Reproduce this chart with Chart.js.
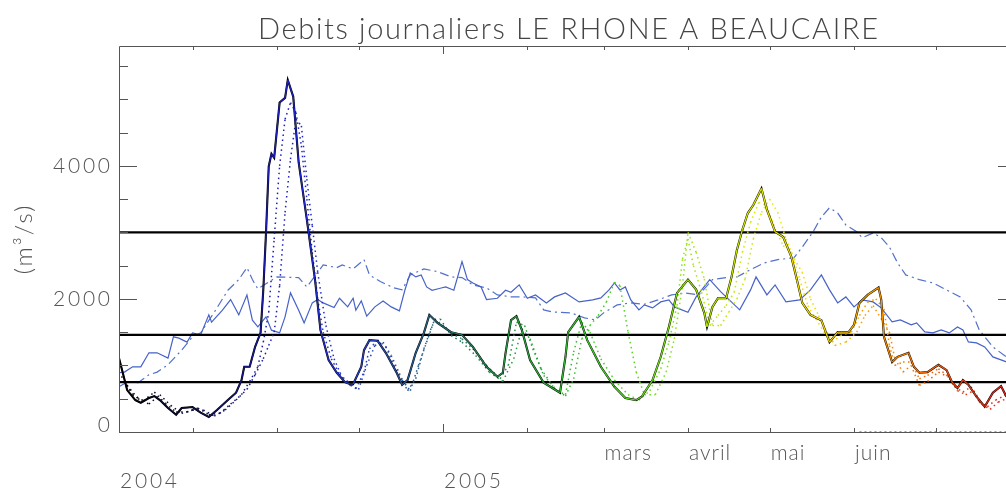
<!DOCTYPE html>
<html>
<head>
<meta charset="utf-8">
<script src="https://cdn.jsdelivr.net/npm/chart.js@4.4.1/dist/chart.umd.min.js"></script>
<style>
  html, body { margin: 0; padding: 0; background: #fff; overflow: hidden; }
  #wrap { width: 1040px; height: 491px; }
</style>
</head>
<body>
<div id="wrap"><canvas id="debits" width="1040" height="491"></canvas></div>
<script>
// x = days counted from 1 Jan 2005, y = discharge in m3/s
const title = 'Debits journaliers LE RHONE A BEAUCAIRE';
const yTitle = '(m³/s)';

// observed daily discharge (black / coloured by date)
const obsDays = [-119,-116,-113,-111,-108,-106,-104,-101,-98,-96,-92,-89,-86,-83,-79,-76,-74,-73,-71,-69,
  -67,-66,-65,-64,-63,-62,-60,-58,-57,-55,-53,-50,-47,-45,-42,-39,-36,-34,-33,-30,
  -29,-27,-24,-21,-17,-15,-13,-10,-7,-5,-2,3,7,11,16,20,22,23,25,27,
  29,32,37,43,45,46,50,53,58,63,67,71,73,77,80,83,86,90,93,96,
  97,99,101,104,106,108,110,112,114,117,119,122,125,128,130,132,135,139,142,145,
  149,151,153,156,160,161,162,165,167,171,173,175,178,182,185,187,189,191,193,196,
  199,202,205,207];
const obsValues = [1110,630,480,440,510,540,480,360,260,360,375,290,225,330,480,590,780,980,980,1280,
  1490,2130,2990,3990,4180,4120,4950,5020,5290,5040,4050,3190,2290,1530,1080,890,750,720,720,980,
  1230,1380,1370,1190,890,710,780,1190,1490,1760,1640,1500,1460,1280,980,830,890,1190,1680,1740,
  1530,1080,740,590,1130,1500,1730,1380,980,680,510,480,530,780,1130,1580,2090,2290,2140,1790,
  1580,1880,2010,2010,2330,2740,3040,3290,3410,3660,3340,3010,2930,2630,2290,1940,1760,1680,1350,1500,
  1500,1610,1940,2060,2170,1990,1430,1050,1130,1190,980,890,900,1010,930,750,660,780,710,530,
  380,590,690,530];

// forecasts (dotted)
const prevADays = [-119,-114,-110,-106,-102,-98,-94,-90,-86,-82,-78,-74,-71,-68,-66,-64,-62,-60,-58,-56,
  -54,-52,-50,-48,-46,-44,-41,-38,-35,-32,-29,-27,-24,-21,-18,-15,-12,-9,-6,-3,
  0,3,7,11,16,21,24,27,30,33,37,42,45,48,51,54,58,63,68,72,
  76,80,83,86,88,90,92,95,98,101,104,107,110,113,116,119,122,125,128,131,
  134,137,140,143,146,150,153,156,159,162,164,166,169,172,175,178,182,185,188,191,
  194,197,200,203,207];
const prevAValues = [900,560,470,600,430,300,300,360,260,280,420,560,760,980,1350,1800,2900,4000,4700,4950,
  4800,4300,3500,2700,2000,1500,1100,870,760,650,900,1250,1380,1280,1000,780,620,1000,1350,1700,
  1600,1480,1400,1250,1000,800,1000,1650,1600,1250,850,620,560,1200,1650,1500,1100,780,560,480,
  620,950,1350,1900,2600,2900,2500,2100,1600,1750,1900,2100,2700,3150,3450,3400,3050,2800,2700,2300,
  1900,1700,1500,1350,1450,1500,1750,1950,2000,1850,1300,1000,1050,1050,800,850,950,860,680,600,
  680,450,380,480,560];
const prevBDays = [-116,-112,-108,-104,-100,-96,-92,-88,-84,-80,-76,-72,-69,-66,-64,-62,-60,-58,-56,-54,
  -52,-50,-48,-46,-43,-40,-37,-34,-31,-28,-25,-22,-19,-16,-13,-10,-7,-4,-1,3,
  7,12,17,22,26,29,32,36,41,45,48,51,54,57,60,63,65,68,71,74,
  78,82,85,88,90,93,96,99,102,105,108,111,114,117,120,123,126,129,132,135,
  138,141,144,148,152,155,158,161,164,166,169,172,175,178,182,186,189,192,195,198,
  201,204,207];
const prevBValues = [700,500,420,560,400,280,330,330,240,330,480,640,860,1100,1300,1500,2200,3300,4100,4700,
  4600,3800,3100,2400,1600,1100,820,700,640,1000,1300,1350,1150,880,620,800,1250,1600,1700,1450,
  1350,1150,900,760,1100,1550,1400,950,650,540,800,1400,1600,1750,1950,2250,2200,1500,900,560,
  560,900,1400,2200,3000,2700,2300,1600,1600,1800,2000,2300,2900,3300,3500,3300,2900,2600,2400,2000,
  1750,1500,1300,1350,1500,1750,1900,1700,1500,1100,900,1000,700,760,900,820,620,560,620,420,
  340,450,500];
const prevZeroDays = [153, 210];
const prevZeroValues = [0, 0];

// blue solid and blue dash-dot reference curves
const moyDays = [-119,-117,-114,-111,-108,-105,-101,-99,-97,-94,-92,-89,-86,-85,-81,-78,-75,-72,-70,-68,
  -65,-63,-60,-58,-56,-53,-51,-48,-46,-44,-40,-38,-35,-33,-32,-30,-28,-25,-22,-19,
  -16,-14,-12,-10,-8,-6,-4,-1,1,4,7,9,11,14,16,20,23,25,28,31,
  34,38,41,45,50,55,58,61,63,65,67,69,72,74,77,80,83,85,90,93,
  98,102,109,113,115,119,122,126,131,135,139,142,145,148,151,154,158,161,165,168,
  172,174,177,180,183,186,189,191,193,196,199,202,207];
const moyValues = [890,900,980,980,1190,1190,1110,1430,1410,1350,1490,1460,1760,1650,1830,1990,1760,2060,1680,1580,
  1730,1530,1490,1730,2090,1830,1640,1940,1990,1940,1870,2010,1880,2010,1830,1970,1740,1880,1970,1880,
  1820,2130,2390,2330,2360,2180,2130,2160,2180,2130,2560,2290,2240,2180,1990,2010,2130,2100,2210,2010,
  2060,1940,2030,2090,1955,1985,2015,2135,2240,2135,2180,1985,1835,1910,1865,1955,1985,1880,1800,2030,
  2290,2110,1835,2135,2330,2060,2210,1955,1985,2135,2360,2135,1940,2030,1880,1985,1955,1865,1654,1684,
  1609,1640,1504,1489,1534,1489,1579,1534,1353,1338,1278,1128,1053];
const climDays = [-119,-116,-112,-108,-105,-101,-96,-92,-89,-84,-79,-75,-72,-70,-68,-61,-53,-50,-44,-39,
  -37,-33,-29,-27,-23,-18,-15,-12,-7,-2,3,7,11,16,20,25,29,34,37,40,
  47,52,56,59,64,69,74,79,84,89,94,99,104,108,113,118,123,129,132,136,
  139,142,145,148,152,154,158,161,164,167,170,175,180,185,190,194,197,202,207];
const climValues = [680,750,740,860,900,1010,1230,1430,1490,1800,2130,2290,2470,2290,2150,2330,2320,2180,2510,2470,
  2510,2450,2590,2360,2260,2165,2135,2360,2450,2410,2330,2320,2210,2165,2060,2030,2030,2015,1835,1805,
  1790,1715,1685,1790,1910,1940,1920,1985,2060,2090,2060,2290,2320,2330,2440,2540,2590,2620,2780,3010,
  3230,3370,3290,3110,3010,2920,2990,2920,2780,2540,2360,2290,2240,2135,2030,1835,1534,1278,1128];

// horizontal threshold lines
const seuils = [3000, 1460, 750];

// axes
const xMin = -119, xMax = 210.5;
const yMin = 0, yMax = 5800;
const yMajor = [0, 2000, 4000];
const yMinor = [500, 1000, 1500, 2500, 3000, 3500, 4500, 5000, 5500];
const monthTicks = [-92, -61, -31, 31, 59, 90, 120, 151, 181];
const yearTicks = [0];
const monthLabels = [[59, 'mars'], [90, 'avril'], [120, 'mai'], [151, 'juin']];
const yearLabels = [[-119, '2004'], [0, '2005']];

// rainbow + black colour ramp along the time axis
const rampStops = [
  [-119, [0, 0, 0]], [-90, [15, 15, 70]], [-60, [30, 30, 185]], [-40, [35, 50, 205]],
  [-20, [40, 75, 170]], [-5, [40, 100, 130]], [10, [40, 125, 90]], [30, [40, 160, 60]],
  [55, [60, 200, 40]], [80, [115, 222, 30]], [100, [185, 232, 0]], [120, [232, 232, 0]],
  [140, [242, 215, 0]], [155, [245, 160, 0]], [175, [245, 110, 0]], [195, [235, 50, 20]],
  [211, [220, 20, 20]]
];
function colorAt(d) {
  if (d <= rampStops[0][0]) return 'rgb(' + rampStops[0][1].join(',') + ')';
  for (let i = 1; i < rampStops.length; i++) {
    const [d1, c1] = rampStops[i];
    const [d0, c0] = rampStops[i - 1];
    if (d <= d1) {
      const t = (d - d0) / (d1 - d0);
      const c = c0.map((v, k) => Math.round(v + (c1[k] - v) * t));
      return 'rgb(' + c.join(',') + ')';
    }
  }
  return 'rgb(' + rampStops[rampStops.length - 1][1].join(',') + ')';
}

const pts = (days, vals) => days.map((d, i) => ({ x: d, y: vals[i] }));
const byDate = { borderColor: c => colorAt((c.p0.parsed.x + c.p1.parsed.x) / 2) };

const datasets = [
  { data: pts(obsDays, obsValues), borderWidth: 1.3, segment: byDate },
  { data: pts(obsDays, obsValues), borderColor: '#000', borderWidth: 2.1 },
  { data: pts(prevADays, prevAValues), borderWidth: 1.5, borderDash: [1.5, 3.5], segment: byDate },
  { data: pts(prevBDays, prevBValues), borderWidth: 1.5, borderDash: [1.5, 3.5], segment: byDate },
  { data: pts(prevZeroDays, prevZeroValues), borderWidth: 1.5, borderDash: [2, 3], segment: byDate },
  ...seuils.map(s => ({ data: [{ x: xMin, y: s }, { x: xMax, y: s }], borderColor: '#000', borderWidth: 2.2 })),
  { data: pts(moyDays, moyValues), borderColor: '#4662c8', borderWidth: 1.2 },
  { data: pts(climDays, climValues), borderColor: '#5370cc', borderWidth: 1.2, borderDash: [9, 4, 2, 4] }
];

const FONT = 'Lato, "DejaVu Sans", sans-serif';

function spacingFor(ctx, text, width) {
  ctx.letterSpacing = '0px';
  const w = ctx.measureText(text).width;
  return (width - w) / Math.max(1, text.length - 1);
}

const frame = {
  id: 'frame',
  afterDraw(chart) {
    const ctx = chart.ctx;
    const xs = chart.scales.x, ys = chart.scales.y;
    const { left, right, top, bottom } = chart.chartArea;
    ctx.save();

    // box and ticks
    ctx.strokeStyle = '#555';
    ctx.lineWidth = 1;
    ctx.beginPath();
    ctx.rect(left + 0.5, top + 0.5, right - left, bottom - top);
    const yt = (v, len) => {
      const y = Math.round(ys.getPixelForValue(v)) + 0.5;
      ctx.moveTo(left, y); ctx.lineTo(left + len, y);
      ctx.moveTo(right, y); ctx.lineTo(right - len, y);
    };
    yMajor.forEach(v => yt(v, 18));
    yMinor.forEach(v => yt(v, 9));
    const xt = (d, len) => {
      const x = Math.round(xs.getPixelForValue(d)) + 0.5;
      ctx.moveTo(x, bottom); ctx.lineTo(x, bottom - len);
      ctx.moveTo(x, top); ctx.lineTo(x, top + len);
    };
    monthTicks.forEach(d => xt(d, 4));
    yearTicks.forEach(d => xt(d, 8));
    ctx.stroke();

    // title
    ctx.fillStyle = '#444';
    ctx.font = '300 29px ' + FONT;
    ctx.textBaseline = 'alphabetic';
    ctx.textAlign = 'left';
    const sp = spacingFor(ctx, title, 620);
    ctx.letterSpacing = sp + 'px';
    ctx.fillText(title, 258, 39);

    // y tick labels
    ctx.fillStyle = '#555';
    ctx.font = '300 21px ' + FONT;
    const nsp = spacingFor(ctx, '4000', 57);
    ctx.letterSpacing = nsp + 'px';
    ctx.textBaseline = 'middle';
    ctx.textAlign = 'right';
    yMajor.forEach(v => {
      const y = Math.min(ys.getPixelForValue(v), bottom - 7);
      ctx.fillText(String(v), 110 + nsp, y);
    });

    // x labels
    ctx.textAlign = 'left';
    ctx.textBaseline = 'alphabetic';
    yearLabels.forEach(([d, t]) => ctx.fillText(t, xs.getPixelForValue(d) + 1, 488));
    ctx.letterSpacing = '1px';
    monthLabels.forEach(([d, t]) => ctx.fillText(t, xs.getPixelForValue(d) + 1, 460));

    // y axis title
    ctx.translate(24, (top + bottom) / 2);
    ctx.rotate(-Math.PI / 2);
    ctx.textAlign = 'center';
    ctx.textBaseline = 'middle';
    ctx.font = '300 24px ' + FONT;
    ctx.letterSpacing = '2px';
    ctx.fillText(yTitle, 0, 0);
    ctx.restore();
  }
};

new Chart(document.getElementById('debits'), {
  type: 'line',
  data: { datasets },
  options: {
    responsive: false,
    animation: false,
    devicePixelRatio: 1,
    layout: { padding: { left: 119, top: 46, right: 24, bottom: 59 } },
    elements: { point: { radius: 0 }, line: { tension: 0 } },
    plugins: { legend: { display: false }, tooltip: { enabled: false }, title: { display: false } },
    scales: {
      x: { type: 'linear', min: xMin, max: xMax, display: false },
      y: { type: 'linear', min: yMin, max: yMax, display: false }
    }
  },
  plugins: [frame]
});
</script>
</body>
</html>
